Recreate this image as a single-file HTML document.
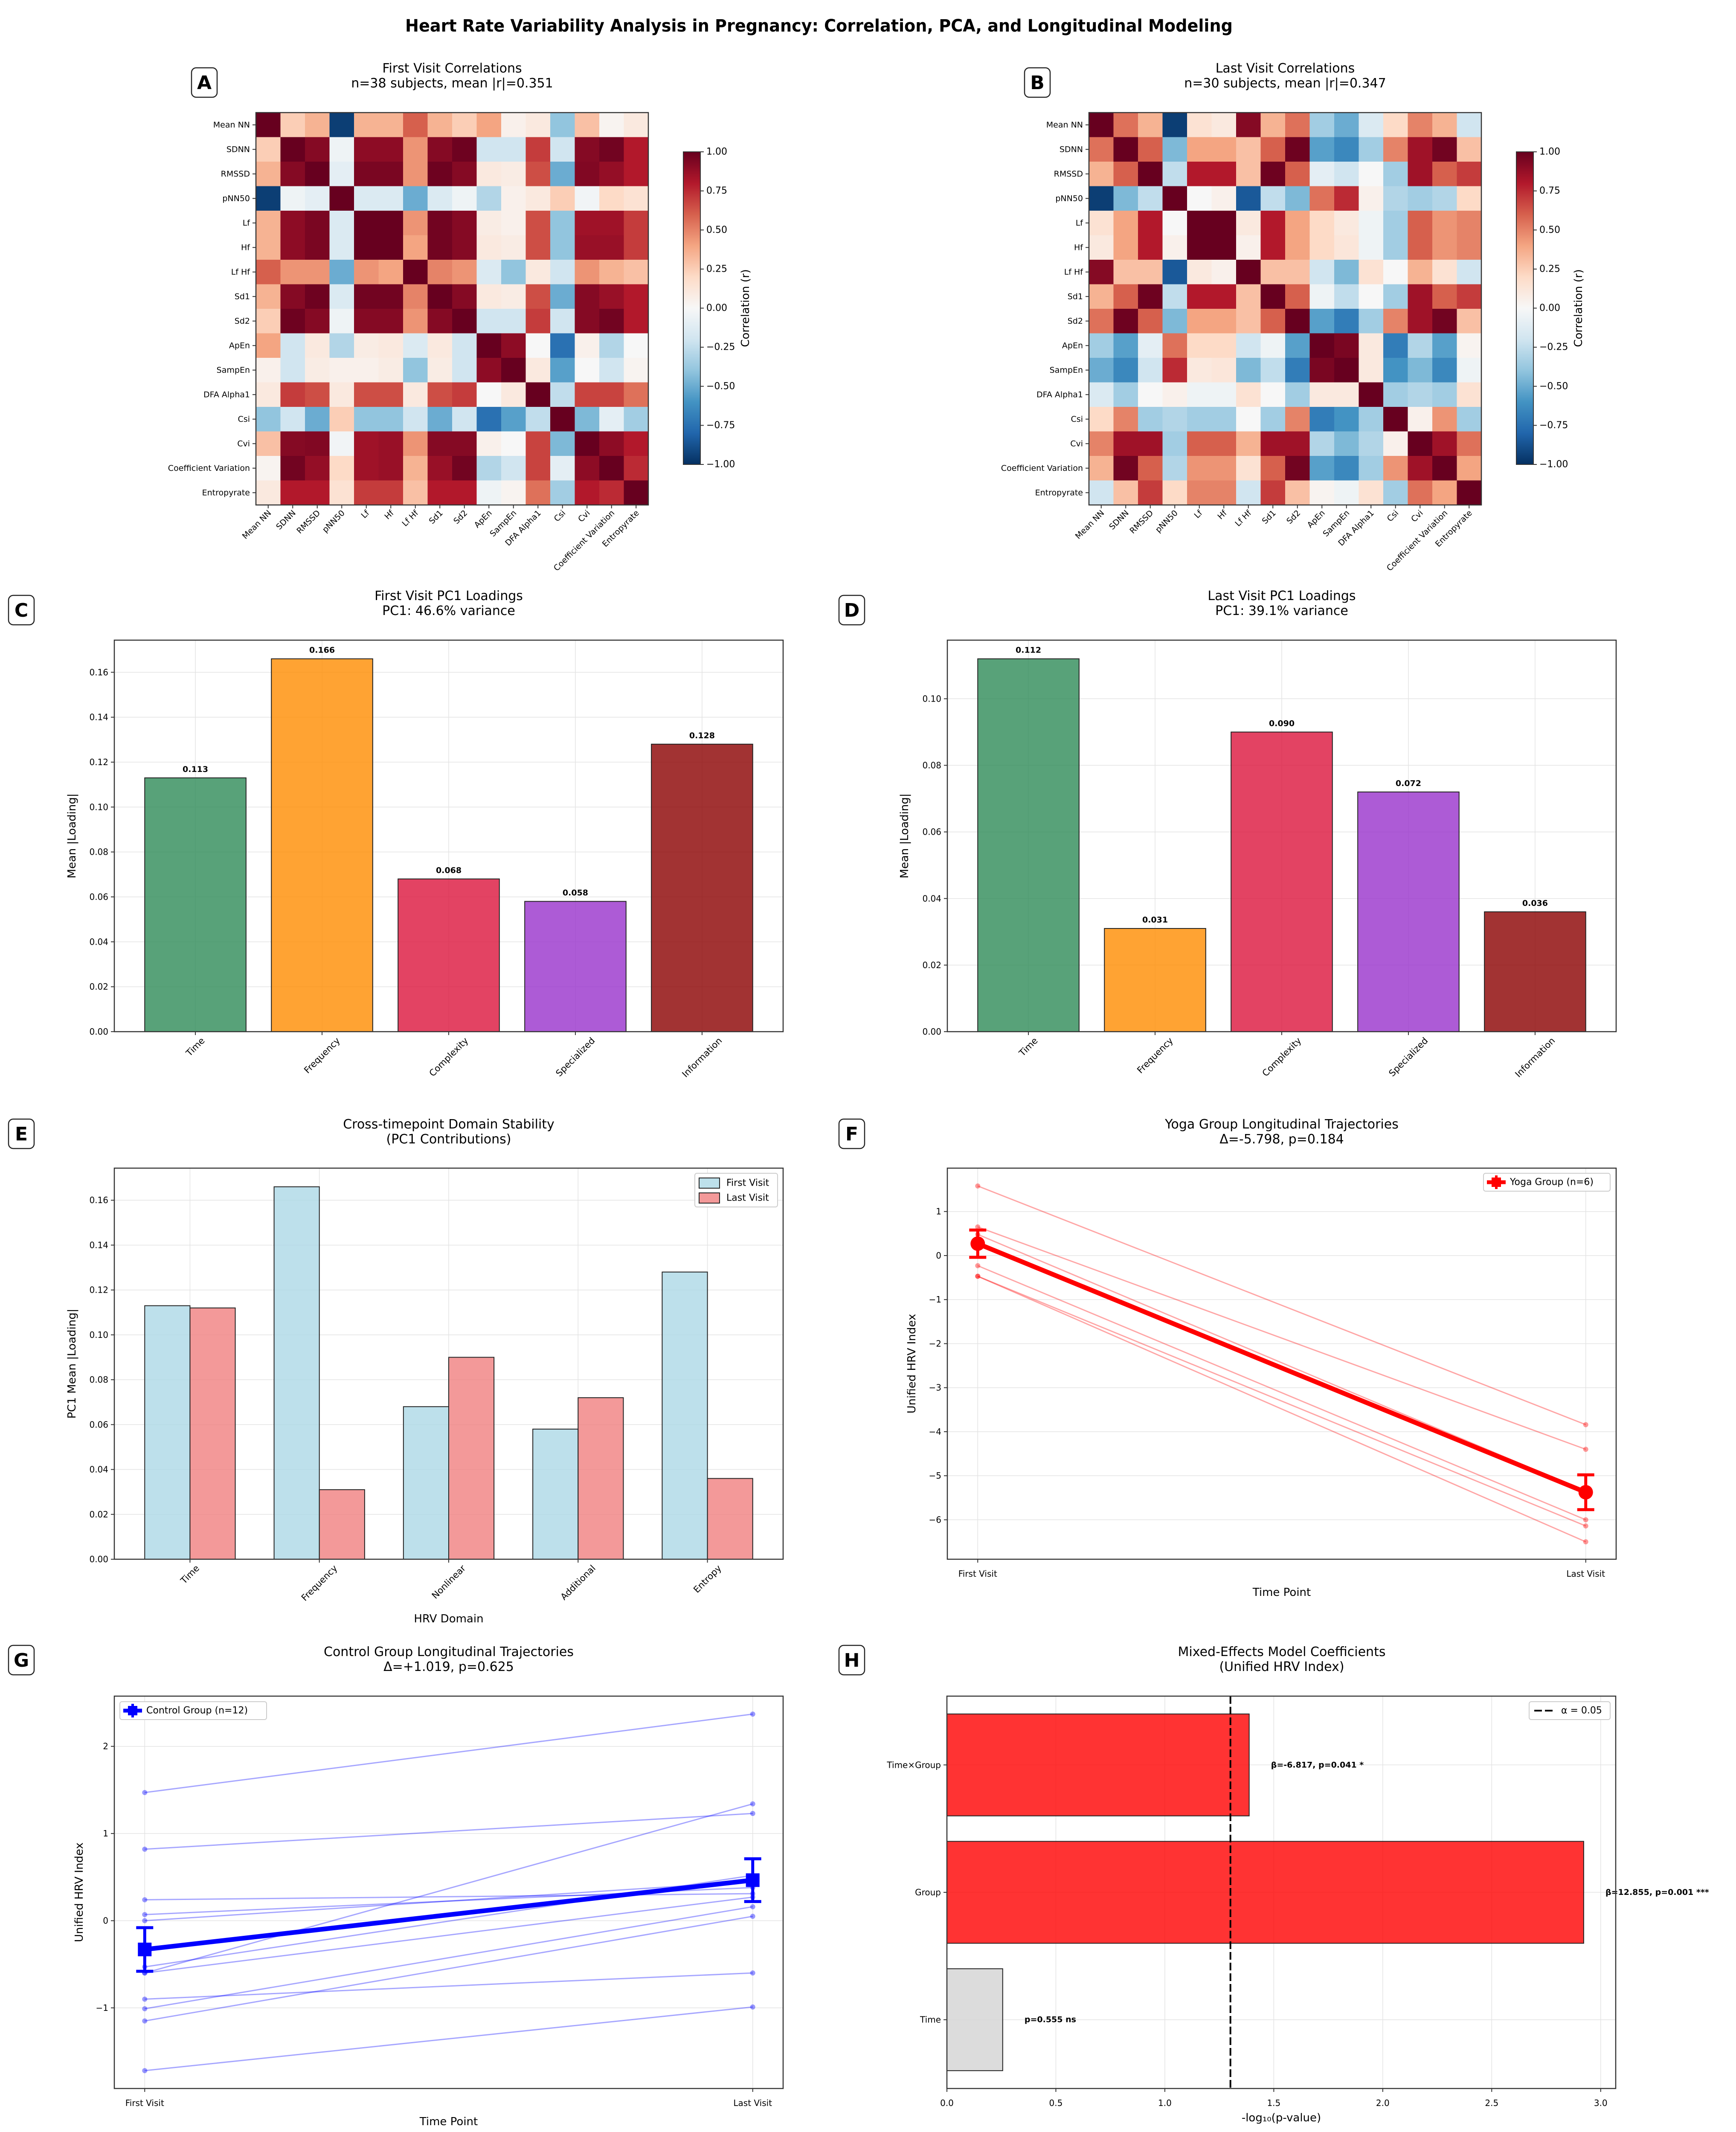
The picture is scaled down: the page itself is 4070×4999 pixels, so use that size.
<!DOCTYPE html>
<html><head><meta charset="utf-8"><title>HRV Analysis in Pregnancy</title>
<style>
html,body{margin:0;padding:0;background:#fff;}
svg{display:block;font-family:"DejaVu Sans","Liberation Sans",sans-serif;}
</style></head>
<body>
<svg id="fig" xmlns="http://www.w3.org/2000/svg" width="4070" height="4999" viewBox="0 0 4070 4999">
<rect x="0" y="0" width="4070" height="4999" fill="#fff"/>
<text x="950" y="74" font-size="40" font-weight="bold" textLength="1940" lengthAdjust="spacingAndGlyphs">Heart Rate Variability Analysis in Pregnancy: Correlation, PCA, and Longitudinal Modeling</text>
</svg>
<script>
// ---------- DATA ----------
const hmLabels = ['Mean NN','SDNN','RMSSD','pNN50','Lf','Hf','Lf Hf','Sd1','Sd2','ApEn','SampEn','DFA Alpha1','Csi','Cvi','Coefficient Variation','Entropyrate'];
const corrFirst = [
[1,.25,.35,-.95,.35,.35,.6,.35,.25,.4,.05,.1,-.4,.3,.03,.1],
[.25,1,.92,-.05,.9,.9,.45,.92,.98,-.2,-.2,.7,-.2,.92,.97,.8],
[.35,.92,1,-.1,.95,.95,.45,.98,.92,.1,.08,.65,-.5,.93,.88,.8],
[-.95,-.05,-.1,1,-.15,-.15,-.5,-.15,-.05,-.3,.05,.1,.25,-.03,.2,.15],
[.35,.9,.95,-.15,1,1,.45,.97,.92,.08,.05,.65,-.4,.85,.85,.7],
[.35,.9,.95,-.15,1,1,.4,.97,.92,.1,.08,.65,-.4,.87,.87,.7],
[.6,.45,.45,-.5,.45,.4,1,.5,.45,-.15,-.4,.1,-.2,.45,.35,.3],
[.35,.92,.98,-.15,.97,.97,.5,1,.92,.1,.08,.65,-.5,.92,.87,.8],
[.25,.98,.92,-.05,.92,.92,.45,.92,1,-.2,-.2,.7,-.2,.92,.97,.8],
[.4,-.2,.1,-.3,.08,.1,-.15,.1,-.2,1,.9,0,-.75,.05,-.3,0],
[.05,-.2,.08,.05,.05,.08,-.4,.08,-.2,.9,1,.1,-.55,0,-.2,.03],
[.1,.7,.65,.1,.65,.65,.1,.65,.7,0,.1,1,-.25,.68,.68,.55],
[-.4,-.2,-.5,.25,-.4,-.4,-.2,-.5,-.2,-.75,-.55,-.25,1,-.45,-.1,-.35],
[.3,.92,.93,-.03,.85,.87,.45,.92,.92,.05,0,.68,-.45,1,.9,.8],
[.03,.97,.88,.2,.85,.87,.35,.87,.97,-.3,-.2,.68,-.1,.9,1,.75],
[.1,.8,.8,.15,.7,.7,.3,.8,.8,-.05,.03,.55,-.35,.8,.75,1]
];
const corrLast = [
[1,.55,.35,-.95,.15,.1,.92,.35,.55,-.35,-.5,-.15,.2,.5,.35,-.2],
[.55,1,.6,-.45,.4,.4,.3,.6,.98,-.55,-.65,-.35,.5,.85,.97,.3],
[.35,.6,1,-.25,.8,.8,.3,.98,.6,-.1,-.2,0,-.35,.85,.6,.7],
[-.95,-.45,-.25,1,0,.05,-.85,-.25,-.45,.55,.75,.05,-.3,-.35,-.3,.2],
[.15,.4,.8,0,1,1,.1,.8,.4,.2,.1,-.05,-.35,.6,.45,.5],
[.1,.4,.8,.05,1,1,.05,.8,.4,.2,.12,-.05,-.35,.6,.45,.5],
[.92,.3,.3,-.85,.1,.05,1,.3,.3,-.2,-.45,.15,0,.35,.15,-.2],
[.35,.6,.98,-.25,.8,.8,.3,1,.6,-.05,-.25,0,-.35,.85,.6,.7],
[.55,.98,.6,-.45,.4,.4,.3,.6,1,-.55,-.7,-.35,.5,.85,.97,.3],
[-.35,-.55,-.1,.55,.2,.2,-.2,-.05,-.55,1,.95,.1,-.7,-.3,-.55,.03],
[-.5,-.65,-.2,.75,.1,.12,-.45,-.25,-.7,.95,1,.1,-.6,-.45,-.65,-.05],
[-.15,-.35,0,.05,-.05,-.05,.15,0,-.35,.1,.1,1,-.35,-.3,-.35,.15],
[.2,.5,-.35,-.3,-.35,-.35,0,-.35,.5,-.7,-.6,-.35,1,.05,.45,-.35],
[.5,.85,.85,-.35,.6,.6,.35,.85,.85,-.3,-.45,-.3,.05,1,.85,.55],
[.35,.97,.6,-.3,.45,.45,.15,.6,.97,-.55,-.65,-.35,.45,.85,1,.4],
[-.2,.3,.7,.2,.5,.5,-.2,.7,.3,.03,-.05,.15,-.35,.55,.4,1]
];
const cbTicks = [-1,-0.75,-0.5,-0.25,0,0.25,0.5,0.75,1];

const pcaCategories = ['Time','Frequency','Complexity','Specialized','Information'];
const pcaFirst = [0.113,0.166,0.068,0.058,0.128];
const pcaLast = [0.112,0.031,0.090,0.072,0.036];
const pcaTicksFirst = [0,0.02,0.04,0.06,0.08,0.10,0.12,0.14,0.16];
const pcaTicksLast = [0,0.02,0.04,0.06,0.08,0.10];

const domainCategories = ['Time','Frequency','Nonlinear','Additional','Entropy'];
const domainFirst = [0.113,0.166,0.068,0.058,0.128];
const domainLast = [0.112,0.031,0.090,0.072,0.036];

const timeLabels = ['First Visit','Last Visit'];
const yogaFirst = [1.58,0.65,0.48,-0.23,-0.47,-0.47];
const yogaLast = [-3.84,-4.40,-5.35,-6.00,-6.14,-6.50];
const yogaMean = [0.27,-5.375];
const yogaErr = [0.31,0.395];
const yogaTicks = [-6,-5,-4,-3,-2,-1,0,1];

const controlFirst = [1.47,0.82,-0.60,0.24,0.07,0.00,-0.53,-0.60,-0.90,-1.01,-1.15,-1.72];
const controlLast = [2.37,1.23,1.34,0.31,0.38,0.45,0.52,0.27,-0.60,0.16,0.05,-0.99];
const controlMean = [-0.33,0.465];
const controlErr = [0.25,0.245];
const controlTicks = [-1,0,1,2];

const mixedTerms = ['Time','Group','Time×Group'];
const mixedValues = [0.256,2.922,1.387];
const mixedLabels = ['p=0.555 ns','β=12.855, p=0.001 ***','β=-6.817, p=0.041 *'];
const mixedColors = ['#d3d3d3','#ff0000','#ff0000'];
const mixedTicks = [0,0.5,1.0,1.5,2.0,2.5,3.0];
const alphaLevel = 1.301;

// ---------- HELPERS ----------
const NS = 'http://www.w3.org/2000/svg';
const svg = document.getElementById('fig');
function mk(tag, attrs, name, inter, parent) {
  const e = document.createElementNS(NS, tag);
  for (const k in attrs) e.setAttribute(k, attrs[k]);
  
  
  (parent || svg).appendChild(e);
  return e;
}
function tx(str, attrs, name, parent) {
  const e = mk('text', attrs, name, false, parent);
  e.textContent = str;
  return e;
}
function lin(d0, d1, r0, r1) { return v => r0 + (v - d0) * (r1 - r0) / (d1 - d0); }
function fmtMinus(s) { return String(s).replace('-', '\u2212'); }

const RDBU = ['#053061','#2166ac','#4393c3','#92c5de','#d1e5f0','#f7f7f7','#fddbc7','#f4a582','#d6604d','#b2182b','#67001f'];
function hex2rgb(h){return [parseInt(h.substr(1,2),16),parseInt(h.substr(3,2),16),parseInt(h.substr(5,2),16)];}
function cmap(v) {
  let t = (Math.max(-1, Math.min(1, v)) + 1) / 2 * 10;
  let i = Math.min(9, Math.floor(t)), f = t - i;
  const a = hex2rgb(RDBU[i]), b = hex2rgb(RDBU[i+1]);
  return 'rgb(' + a.map((c,k)=>Math.round(c + (b[k]-c)*f)).join(',') + ')';
}
// gradient for colorbar
const defs = mk('defs', {}, 'defs', false);
const grad = mk('linearGradient', {id:'rdbu', x1:'0', y1:'1', x2:'0', y2:'0'}, 'colorbar-gradient', false, defs);
RDBU.forEach((c,i)=>{ mk('stop', {offset:(i/10), 'stop-color':c}, 'gradient-stop', false, grad); });

function panelLabel(letter, x, y) {
  const g = mk('g', {}, 'panel-label-' + letter.toLowerCase(), false);
  mk('rect', {x:x, y:y, width:60, height:69, rx:11, fill:'#fff', stroke:'#222', 'stroke-width':2.5}, 'panel-label-box', false, g);
  tx(letter, {x:x+30, y:y+50, 'font-size':44, 'font-weight':'bold', 'text-anchor':'middle'}, 'panel-label-letter', g);
}
function titles(cx, y1, l1, l2, key) {
  tx(l1, {x:cx, y:y1, 'font-size':30, 'text-anchor':'middle'}, key + '-title', null);
  tx(l2, {x:cx, y:y1+35, 'font-size':30, 'text-anchor':'middle'}, key + '-subtitle', null);
}
function frame(x0,y0,x1,y1,key){
  mk('rect', {x:x0, y:y0, width:x1-x0, height:y1-y0, fill:'none', stroke:'#333', 'stroke-width':2.5}, key + '-axes-frame', false);
}
function rotLabel(str, cx, top, key) {
  const t = tx(str, {x:0, y:0, 'font-size':21, 'text-anchor':'middle', 'dominant-baseline':'central'}, key, null);
  let w = 0; try { w = t.getComputedTextLength(); } catch(e) { w = str.length * 12; }
  if (!w) w = str.length * 12;
  const h = (w + 21) * 0.7071;
  t.setAttribute('transform', 'translate(' + cx + ',' + (top + 10 + h/2) + ') rotate(-45)');
}
function yLabel(str, x, cy, key) {
  tx(str, {x:0, y:0, 'font-size':26, 'text-anchor':'middle', 'dominant-baseline':'central', transform:'translate(' + x + ',' + cy + ') rotate(-90)'}, key, null);
}

// ---------- HEATMAPS ----------
function heatmap(mat, x0, y0, key, cbx) {
  const size = 920, n = hmLabels.length, c = size / n;
  const g = mk('g', {}, key + '-heatmap', false);
  mat.forEach((row, i) => row.forEach((v, j) => {
    mk('rect', {x:x0 + j*c, y:y0 + i*c, width:c+0.6, height:c+0.6, fill:cmap(v)}, 'heatmap-cell', true, g);
  }));
  mk('rect', {x:x0, y:y0, width:size, height:size, fill:'none', stroke:'#333', 'stroke-width':2.5}, key + '-heatmap-frame', false);
  hmLabels.forEach((lab, i) => {
    const cy = y0 + (i+0.5)*c, cx = x0 + (i+0.5)*c;
    mk('line', {x1:x0-8, x2:x0, y1:cy, y2:cy, stroke:'#333', 'stroke-width':2}, 'y-tick', false);
    tx(lab, {x:x0-14, y:cy, 'font-size':19, 'text-anchor':'end', 'dominant-baseline':'central'}, 'y-tick-label', null);
    mk('line', {x1:cx, x2:cx, y1:y0+size, y2:y0+size+8, stroke:'#333', 'stroke-width':2}, 'x-tick', false);
    tx(lab, {x:0, y:0, 'font-size':19, 'text-anchor':'end', transform:'translate(' + (cx+8) + ',' + (y0+size+20) + ') rotate(-45)'}, 'x-tick-label', null);
  });
  // colorbar
  const cy0 = 356, cy1 = 1089, cw = 40;
  mk('rect', {x:cbx, y:cy0, width:cw, height:cy1-cy0, fill:'url(#rdbu)', stroke:'#333', 'stroke-width':2}, key + '-colorbar', false);
  const cs = lin(-1, 1, cy1, cy0);
  cbTicks.forEach(v => {
    mk('line', {x1:cbx+cw, x2:cbx+cw+8, y1:cs(v), y2:cs(v), stroke:'#333', 'stroke-width':2}, 'colorbar-tick', false);
    tx(fmtMinus(v.toFixed(2)), {x:cbx+cw+14, y:cs(v), 'font-size':22, 'dominant-baseline':'central'}, 'colorbar-tick-label', null);
  });
  yLabel('Correlation (r)', cbx+cw+106, (cy0+cy1)/2, key + '-colorbar-label');
}
panelLabel('A', 449, 159);
titles(1060, 170, 'First Visit Correlations', 'n=38 subjects, mean |r|=0.351', 'first-corr');
heatmap(corrFirst, 600, 264, 'first-visit', 1602);
panelLabel('B', 2402, 159);
titles(3013, 170, 'Last Visit Correlations', 'n=30 subjects, mean |r|=0.347', 'last-corr');
heatmap(corrLast, 2553, 264, 'last-visit', 3555);

// ---------- BAR CHARTS C, D ----------
const pcaColors = ['#2e8b57','#ff8c00','#dc143c','#9932cc','#8b0000'];
function vbar(cfg) {
  const {x0,x1,y0,y1,vals,ymax,ticks,key} = cfg;
  const xs = lin(-0.64, 4.64, x0, x1), ys = lin(0, ymax, y1, y0);
  ticks.forEach(v => mk('line', {x1:x0, x2:x1, y1:ys(v), y2:ys(v), stroke:'#e3e3e3', 'stroke-width':1.5}, 'grid-line', false));
  pcaCategories.forEach((c,i) => mk('line', {x1:xs(i), x2:xs(i), y1:y0, y2:y1, stroke:'#e3e3e3', 'stroke-width':1.5}, 'grid-line', false));
  vals.forEach((v,i) => {
    mk('rect', {x:xs(i-0.4), y:ys(v), width:xs(0.4)-xs(-0.4), height:ys(0)-ys(v), fill:pcaColors[i], 'fill-opacity':0.8, stroke:'#222', 'stroke-width':2}, 'bar-' + pcaCategories[i].toLowerCase(), true);
    tx(v.toFixed(3), {x:xs(i), y:ys(v)-14, 'font-size':19, 'font-weight':'bold', 'text-anchor':'middle'}, 'bar-value-label', null);
  });
  ticks.forEach(v => {
    mk('line', {x1:x0-8, x2:x0, y1:ys(v), y2:ys(v), stroke:'#333', 'stroke-width':2}, 'y-tick', false);
    tx(v.toFixed(2), {x:x0-14, y:ys(v), 'font-size':20, 'text-anchor':'end', 'dominant-baseline':'central'}, 'y-tick-label', null);
  });
  pcaCategories.forEach((c,i) => {
    mk('line', {x1:xs(i), x2:xs(i), y1:y1, y2:y1+8, stroke:'#333', 'stroke-width':2}, 'x-tick', false);
    rotLabel(c, xs(i), y1, 'x-tick-label');
  });
  frame(x0,y0,x1,y1,key);
  yLabel('Mean |Loading|', cfg.ylx, (y0+y1)/2, key + '-y-axis-title');
}
panelLabel('C', 20, 1396);
titles(1052, 1407, 'First Visit PC1 Loadings', 'PC1: 46.6% variance', 'first-pca');
vbar({x0:268, x1:1836, y0:1501, y1:2419, vals:pcaFirst, ymax:0.1743, ticks:pcaTicksFirst, key:'first-pca', ylx:169});
panelLabel('D', 1967, 1396);
titles(3005, 1407, 'Last Visit PC1 Loadings', 'PC1: 39.1% variance', 'last-pca');
vbar({x0:2221, x1:3789, y0:1501, y1:2419, vals:pcaLast, ymax:0.1176, ticks:pcaTicksLast, key:'last-pca', ylx:2121});

// ---------- PANEL E ----------
(function(){
  const x0=268, x1=1836, y0=2739, y1=3656, key='domain-stability';
  const xs = lin(-0.585, 4.585, x0, x1), ys = lin(0, 0.1743, y1, y0);
  pcaTicksFirst.forEach(v => mk('line', {x1:x0, x2:x1, y1:ys(v), y2:ys(v), stroke:'#e3e3e3', 'stroke-width':1.5}, 'grid-line', false));
  domainCategories.forEach((c,i) => mk('line', {x1:xs(i), x2:xs(i), y1:y0, y2:y1, stroke:'#e3e3e3', 'stroke-width':1.5}, 'grid-line', false));
  domainCategories.forEach((c,i) => {
    mk('rect', {x:xs(i-0.35), y:ys(domainFirst[i]), width:xs(0.35)-xs(0), height:ys(0)-ys(domainFirst[i]), fill:'#add8e6', 'fill-opacity':0.8, stroke:'#222', 'stroke-width':2}, 'bar-first-visit', true);
    mk('rect', {x:xs(i), y:ys(domainLast[i]), width:xs(0.35)-xs(0), height:ys(0)-ys(domainLast[i]), fill:'#f08080', 'fill-opacity':0.8, stroke:'#222', 'stroke-width':2}, 'bar-last-visit', true);
  });
  pcaTicksFirst.forEach(v => {
    mk('line', {x1:x0-8, x2:x0, y1:ys(v), y2:ys(v), stroke:'#333', 'stroke-width':2}, 'y-tick', false);
    tx(v.toFixed(2), {x:x0-14, y:ys(v), 'font-size':20, 'text-anchor':'end', 'dominant-baseline':'central'}, 'y-tick-label', null);
  });
  domainCategories.forEach((c,i) => {
    mk('line', {x1:xs(i), x2:xs(i), y1:y1, y2:y1+8, stroke:'#333', 'stroke-width':2}, 'x-tick', false);
    rotLabel(c, xs(i), y1, 'x-tick-label');
  });
  frame(x0,y0,x1,y1,key);
  yLabel('PC1 Mean |Loading|', 169, (y0+y1)/2, 'y-axis-title');
  tx('HRV Domain', {x:(x0+x1)/2, y:3796, 'font-size':26, 'text-anchor':'middle', 'dominant-baseline':'central'}, 'x-axis-title', null);
  const lg = mk('g', {}, 'legend', false);
  mk('rect', {x:1629, y:2751, width:194, height:79, rx:5, fill:'#fff', stroke:'#ccc', 'stroke-width':2}, 'legend-box', false, lg);
  mk('rect', {x:1639, y:2762, width:48, height:24, fill:'#add8e6', 'fill-opacity':0.8, stroke:'#222', 'stroke-width':2}, 'legend-swatch-first', false, lg);
  tx('First Visit', {x:1703, y:2774, 'font-size':22, 'dominant-baseline':'central'}, 'legend-entry-first-visit', lg);
  mk('rect', {x:1639, y:2797, width:48, height:24, fill:'#f08080', 'fill-opacity':0.8, stroke:'#222', 'stroke-width':2}, 'legend-swatch-last', false, lg);
  tx('Last Visit', {x:1703, y:2809, 'font-size':22, 'dominant-baseline':'central'}, 'legend-entry-last-visit', lg);
})();
panelLabel('E', 20, 2624);
titles(1052, 2646, 'Cross-timepoint Domain Stability', '(PC1 Contributions)', 'domain');

// ---------- PANELS F, G ----------
function traj(cfg) {
  const {x0,x1,y0,y1,first,last,mean,err,ticks,ymin,ymax,color,key,square,ylx} = cfg;
  const xs = lin(-0.05, 1.05, x0, x1), ys = lin(ymin, ymax, y1, y0);
  ticks.forEach(v => mk('line', {x1:x0, x2:x1, y1:ys(v), y2:ys(v), stroke:'#e3e3e3', 'stroke-width':1.5}, 'grid-line', false));
  [0,1].forEach(i => mk('line', {x1:xs(i), x2:xs(i), y1:y0, y2:y1, stroke:'#e3e3e3', 'stroke-width':1.5}, 'grid-line', false));
  first.forEach((v,i) => {
    mk('line', {x1:xs(0), y1:ys(v), x2:xs(1), y2:ys(last[i]), stroke:color, 'stroke-opacity':0.35, 'stroke-width':3}, 'subject-line', true);
    mk('circle', {cx:xs(0), cy:ys(v), r:6, fill:color, 'fill-opacity':0.4}, 'subject-point', true);
    mk('circle', {cx:xs(1), cy:ys(last[i]), r:6, fill:color, 'fill-opacity':0.4}, 'subject-point', true);
  });
  mk('line', {x1:xs(0), y1:ys(mean[0]), x2:xs(1), y2:ys(mean[1]), stroke:color, 'stroke-width':11}, 'group-mean-line', true);
  mean.forEach((m,i) => {
    const cx = xs(i);
    mk('line', {x1:cx, x2:cx, y1:ys(m+err[i]), y2:ys(m-err[i]), stroke:color, 'stroke-width':7}, 'error-bar', false);
    mk('line', {x1:cx-20, x2:cx+20, y1:ys(m+err[i]), y2:ys(m+err[i]), stroke:color, 'stroke-width':7}, 'error-cap', false);
    mk('line', {x1:cx-20, x2:cx+20, y1:ys(m-err[i]), y2:ys(m-err[i]), stroke:color, 'stroke-width':7}, 'error-cap', false);
    if (square) mk('rect', {x:cx-16, y:ys(m)-16, width:32, height:32, fill:color}, 'mean-marker', true);
    else mk('circle', {cx:cx, cy:ys(m), r:17, fill:color}, 'mean-marker', true);
  });
  ticks.forEach(v => {
    mk('line', {x1:x0-8, x2:x0, y1:ys(v), y2:ys(v), stroke:'#333', 'stroke-width':2}, 'y-tick', false);
    tx(fmtMinus(v), {x:x0-14, y:ys(v), 'font-size':20, 'text-anchor':'end', 'dominant-baseline':'central'}, 'y-tick-label', null);
  });
  timeLabels.forEach((l,i) => {
    mk('line', {x1:xs(i), x2:xs(i), y1:y1, y2:y1+8, stroke:'#333', 'stroke-width':2}, 'x-tick', false);
    tx(l, {x:xs(i), y:y1+34, 'font-size':20, 'text-anchor':'middle', 'dominant-baseline':'central'}, 'x-tick-label', null);
  });
  frame(x0,y0,x1,y1,key);
  yLabel('Unified HRV Index', ylx, (y0+y1)/2, key + '-y-axis-title');
  tx('Time Point', {x:(x0+x1)/2, y:y1+78, 'font-size':26, 'text-anchor':'middle', 'dominant-baseline':'central'}, key + '-x-axis-title', null);
  const lg = mk('g', {}, key + '-legend', false);
  const L = cfg.legend;
  mk('rect', {x:L.x, y:L.y, width:L.w, height:42, rx:5, fill:'#fff', stroke:'#ccc', 'stroke-width':2}, 'legend-box', false, lg);
  const mx = L.x + 30, my = L.y + 21;
  mk('line', {x1:mx-22, x2:mx+22, y1:my, y2:my, stroke:color, 'stroke-width':9}, 'legend-line', false, lg);
  mk('line', {x1:mx, x2:mx, y1:my-16, y2:my+16, stroke:color, 'stroke-width':6}, 'legend-errorbar', false, lg);
  mk('rect', {x:mx-11, y:my-11, width:22, height:22, fill:color}, 'legend-marker', false, lg);
  tx(L.text, {x:L.x+62, y:my, 'font-size':22, 'dominant-baseline':'central'}, 'legend-entry', lg);
}
panelLabel('F', 1967, 2624);
titles(3005, 2646, 'Yoga Group Longitudinal Trajectories', 'Δ=-5.798, p=0.184', 'yoga');
traj({x0:2221, x1:3789, y0:2739, y1:3656, first:yogaFirst, last:yogaLast, mean:yogaMean, err:yogaErr, ticks:yogaTicks, ymin:-6.896, ymax:1.985, color:'#ff0000', key:'yoga', square:false, ylx:2138, legend:{x:3478, y:2751, w:297, text:'Yoga Group (n=6)'}});
panelLabel('G', 20, 3858);
titles(1052, 3883, 'Control Group Longitudinal Trajectories', 'Δ=+1.019, p=0.625', 'control');
traj({x0:268, x1:1836, y0:3977, y1:4897, first:controlFirst, last:controlLast, mean:controlMean, err:controlErr, ticks:controlTicks, ymin:-1.925, ymax:2.576, color:'#0000ff', key:'control', square:true, ylx:186, legend:{x:281, y:3990, w:344, text:'Control Group (n=12)'}});

// ---------- PANEL H ----------
panelLabel('H', 1967, 3858);
titles(3005, 3883, 'Mixed-Effects Model Coefficients', '(Unified HRV Index)', 'mixed');
(function(){
  const x0=2220, x1=3788, y0=3977, y1=4897, key='mixed-effects';
  const xs = lin(0, 3.069, x0, x1), ys = lin(-0.54, 2.54, y1, y0);
  mixedTicks.forEach(v => mk('line', {x1:xs(v), x2:xs(v), y1:y0, y2:y1, stroke:'#e3e3e3', 'stroke-width':1.5}, 'grid-line', false));
  mixedTerms.forEach((t,i) => mk('line', {x1:x0, x2:x1, y1:ys(i), y2:ys(i), stroke:'#e3e3e3', 'stroke-width':1.5}, 'grid-line', false));
  mixedValues.forEach((v,i) => {
    mk('rect', {x:xs(0), y:ys(i+0.4), width:xs(v)-xs(0), height:ys(i-0.4)-ys(i+0.4), fill:mixedColors[i], 'fill-opacity':0.8, stroke:'#222', 'stroke-width':2}, 'bar-' + mixedTerms[i].toLowerCase().replace('×','-x-'), true);
    tx(mixedLabels[i], {x:xs(v+0.1), y:ys(i), 'font-size':19, 'font-weight':'bold', 'dominant-baseline':'central'}, 'bar-annotation', null);
  });
  mk('line', {x1:xs(alphaLevel), x2:xs(alphaLevel), y1:y0, y2:y1, stroke:'#000', 'stroke-width':4, 'stroke-dasharray':'18,7'}, 'alpha-threshold-line', false);
  mixedTicks.forEach(v => {
    mk('line', {x1:xs(v), x2:xs(v), y1:y1, y2:y1+8, stroke:'#333', 'stroke-width':2}, 'x-tick', false);
    tx(v.toFixed(1), {x:xs(v), y:y1+34, 'font-size':20, 'text-anchor':'middle', 'dominant-baseline':'central'}, 'x-tick-label', null);
  });
  mixedTerms.forEach((t,i) => {
    mk('line', {x1:x0-8, x2:x0, y1:ys(i), y2:ys(i), stroke:'#333', 'stroke-width':2}, 'y-tick', false);
    tx(t, {x:x0-14, y:ys(i), 'font-size':20, 'text-anchor':'end', 'dominant-baseline':'central'}, 'y-tick-label', null);
  });
  frame(x0,y0,x1,y1,key);
  const xl = tx('', {x:(x0+x1)/2, y:4966, 'font-size':26, 'text-anchor':'middle', 'dominant-baseline':'central'}, 'x-axis-title', null);
  xl.textContent = '-log₁₀(p-value)';
  const lg = mk('g', {}, 'legend', false);
  mk('rect', {x:3585, y:3990, width:190, height:42, rx:5, fill:'#fff', stroke:'#ccc', 'stroke-width':2}, 'legend-box', false, lg);
  mk('line', {x1:3597, x2:3645, y1:4011, y2:4011, stroke:'#000', 'stroke-width':4, 'stroke-dasharray':'18,7'}, 'legend-line', false, lg);
  tx('α = 0.05', {x:3660, y:4011, 'font-size':22, 'dominant-baseline':'central'}, 'legend-entry-alpha', lg);
})();
</script>
</body></html>
